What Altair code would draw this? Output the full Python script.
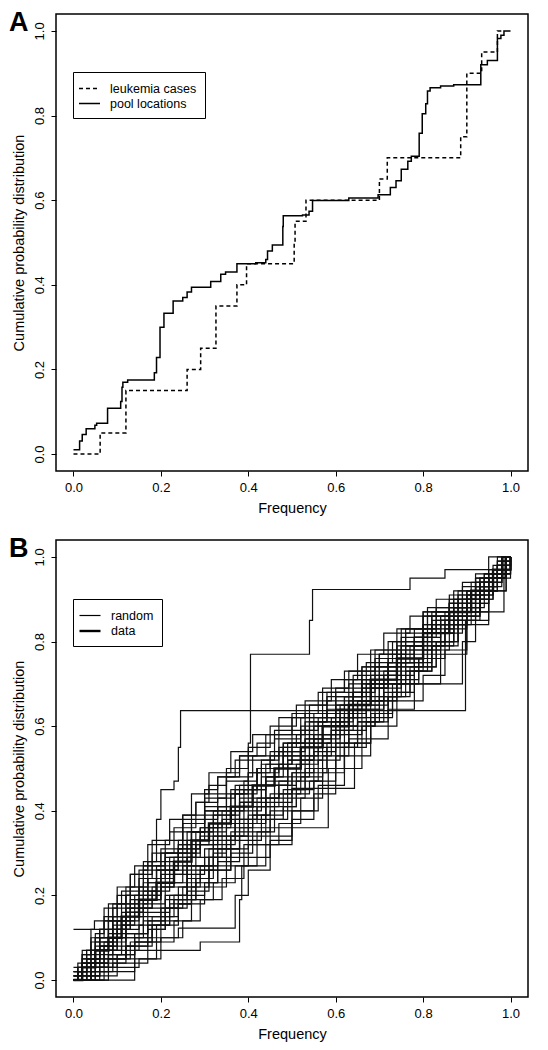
import altair as alt
import pandas as pd

FONT = "Liberation Sans"
ticks = [0.0, 0.2, 0.4, 0.6, 0.8, 1.0]
dom = [-0.04, 1.04]
panel_labels = ["A", "B"]

# ---------------- Panel A ----------------
leuk_x = [0.0, 0.061, 0.12, 0.26, 0.291, 0.326, 0.374, 0.396, 0.505, 0.507, 0.532, 0.70, 0.718, 0.886, 0.90, 0.934, 0.97, 0.985]
leuk_y = [0.0, 0.05, 0.15, 0.20, 0.25, 0.35, 0.40, 0.45, 0.50, 0.55, 0.60, 0.65, 0.70, 0.75, 0.90, 0.95, 1.0, 1.0]

pool_x = [0.0, 0.014, 0.02, 0.029, 0.049, 0.053, 0.078, 0.108, 0.111, 0.113,
          0.124, 0.185, 0.19, 0.198, 0.207, 0.228, 0.25, 0.26, 0.27, 0.314,
          0.337, 0.348, 0.374, 0.417, 0.44, 0.444, 0.455, 0.479, 0.48, 0.524,
          0.539, 0.547, 0.63, 0.697, 0.725, 0.738, 0.75, 0.765, 0.773, 0.791,
          0.798, 0.806, 0.81, 0.816, 0.84, 0.87, 0.932, 0.947, 0.97, 0.978,
          0.985, 1.0]
pool_y = [0.01, 0.031, 0.046, 0.06, 0.068, 0.073, 0.108, 0.124, 0.158, 0.17,
          0.175, 0.192, 0.228, 0.30, 0.333, 0.362, 0.37, 0.383, 0.394, 0.408,
          0.425, 0.43, 0.45, 0.452, 0.46, 0.48, 0.494, 0.538, 0.563, 0.565,
          0.574, 0.599, 0.605, 0.613, 0.63, 0.646, 0.673, 0.692, 0.704, 0.758,
          0.804, 0.828, 0.858, 0.866, 0.87, 0.873, 0.92, 0.93, 0.982, 0.99,
          1.0, 1.0]
legendA = ["leukemia cases", "pool locations"]

# ---------------- Panel B ----------------
r01 = [(0,0.02),(0.02,0.05),(0.05,0.1),(0.08,0.14),(0.12,0.2),(0.16,0.26),(0.2,0.31),(0.25,0.37),(0.3,0.43),(0.35,0.48),(0.41,0.53),(0.47,0.58),(0.53,0.63),(0.6,0.69),(0.67,0.75),(0.73,0.8),(0.8,0.86),(0.86,0.9),(0.92,0.95),(0.97,1.0),(1.0,1.0)]
r02 = [(0,0),(0.04,0.02),(0.09,0.04),(0.14,0.07),(0.2,0.1),(0.25,0.14),(0.29,0.19),(0.34,0.24),(0.39,0.29),(0.45,0.34),(0.5,0.4),(0.56,0.46),(0.62,0.53),(0.68,0.6),(0.74,0.66),(0.8,0.72),(0.85,0.78),(0.9,0.85),(0.95,0.92),(0.99,1.0),(1.0,1.0)]
r03 = [(0,0.01),(0.02,0.04),(0.06,0.08),(0.1,0.12),(0.13,0.17),(0.18,0.21),(0.22,0.26),(0.27,0.32),(0.31,0.36),(0.36,0.41),(0.4,0.46),(0.46,0.5),(0.52,0.55),(0.57,0.61),(0.63,0.66),(0.7,0.72),(0.75,0.78),(0.82,0.83),(0.87,0.88),(0.93,0.94),(0.98,1.0),(1.0,1.0)]
r04 = [(0,0),(0.03,0.05),(0.06,0.1),(0.09,0.15),(0.12,0.2),(0.15,0.26),(0.17,0.32),(0.19,0.38),(0.2,0.45),(0.23,0.47),(0.24,0.55),(0.245,0.637),(0.897,0.85),(0.93,0.9),(0.96,0.95),(0.99,1.0),(1.0,1.0)]
r05 = [(0,0),(0.04,0.04),(0.08,0.09),(0.12,0.15),(0.16,0.2),(0.2,0.26),(0.24,0.32),(0.27,0.38),(0.3,0.45),(0.33,0.48),(0.37,0.52),(0.4,0.56),(0.405,0.77),(0.54,0.85),(0.547,0.923),(0.77,0.95),(0.85,0.97),(0.95,1.0),(1.0,1.0)]
r06 = [(0,0.12),(0.048,0.14),(0.08,0.18),(0.12,0.22),(0.16,0.27),(0.2,0.3),(0.25,0.35),(0.3,0.4),(0.36,0.45),(0.42,0.5),(0.48,0.55),(0.55,0.6),(0.61,0.65),(0.68,0.7),(0.75,0.76),(0.81,0.82),(0.87,0.88),(0.93,0.94),(0.98,1.0),(1.0,1.0)]
r07 = [(0,0),(0.05,0.01),(0.1,0.03),(0.15,0.05),(0.2,0.07),(0.29,0.09),(0.38,0.19),(0.385,0.27),(0.44,0.32),(0.5,0.38),(0.55,0.44),(0.6,0.5),(0.66,0.57),(0.72,0.64),(0.78,0.7),(0.84,0.77),(0.9,0.84),(0.95,0.92),(0.99,1.0),(1.0,1.0)]
r08 = [(0,0),(0.03,0.02),(0.07,0.05),(0.12,0.08),(0.18,0.1),(0.24,0.123),(0.37,0.2),(0.4,0.26),(0.45,0.33),(0.5,0.4),(0.55,0.47),(0.6,0.55),(0.65,0.61),(0.71,0.68),(0.77,0.74),(0.83,0.8),(0.88,0.87),(0.93,0.93),(0.97,0.98),(1.0,1.0)]
r09 = [(0,0),(0.02,0.03),(0.06,0.07),(0.1,0.12),(0.15,0.17),(0.2,0.22),(0.26,0.27),(0.31,0.31),(0.38,0.34),(0.45,0.36),(0.583,0.5),(0.62,0.56),(0.68,0.63),(0.73,0.7),(0.79,0.76),(0.85,0.83),(0.9,0.89),(0.95,0.95),(0.99,1.0),(1.0,1.0)]
r10 = [(0,0),(0.04,0.03),(0.08,0.06),(0.12,0.11),(0.17,0.16),(0.22,0.2),(0.27,0.26),(0.33,0.31),(0.38,0.37),(0.44,0.42),(0.5,0.453),(0.643,0.56),(0.68,0.62),(0.73,0.68),(0.78,0.74),(0.83,0.8),(0.88,0.86),(0.93,0.92),(0.97,0.97),(1.0,1.0)]
r11 = [(0,0),(0.03,0.04),(0.07,0.08),(0.11,0.13),(0.16,0.18),(0.21,0.23),(0.26,0.29),(0.32,0.34),(0.37,0.4),(0.43,0.46),(0.49,0.52),(0.55,0.57),(0.61,0.62),(0.67,0.66),(0.74,0.7),(0.89,0.8),(0.92,0.87),(0.95,0.93),(0.98,0.97),(1.0,1.0)]
r12 = [(0,0.01),(0.02,0.05),(0.05,0.09),(0.09,0.14),(0.13,0.19),(0.17,0.24),(0.22,0.29),(0.27,0.35),(0.32,0.4),(0.37,0.45),(0.42,0.5),(0.48,0.56),(0.54,0.62),(0.6,0.68),(0.66,0.74),(0.72,0.8),(0.8,0.87),(0.985,1.0),(1.0,1.0)]
r13 = [(0,0),(0.01,0.02),(0.03,0.05),(0.07,0.09),(0.1,0.14),(0.14,0.19),(0.17,0.24),(0.21,0.3),(0.26,0.35),(0.3,0.41),(0.35,0.47),(0.4,0.52),(0.46,0.57),(0.52,0.62),(0.58,0.67),(0.64,0.72),(0.7,0.77),(0.76,0.83),(0.83,0.88),(0.89,0.93),(0.95,0.97),(0.99,1.0),(1.0,1.0)]
r14 = [(0,0),(0.05,0.03),(0.1,0.06),(0.14,0.1),(0.18,0.15),(0.23,0.19),(0.28,0.23),(0.33,0.28),(0.38,0.33),(0.43,0.39),(0.48,0.45),(0.53,0.5),(0.58,0.56),(0.63,0.62),(0.68,0.67),(0.74,0.73),(0.8,0.78),(0.86,0.84),(0.91,0.9),(0.96,0.96),(0.99,1.0),(1.0,1.0)]
r15 = [(0,0.02),(0.02,0.06),(0.04,0.1),(0.07,0.15),(0.1,0.2),(0.13,0.25),(0.18,0.3),(0.23,0.36),(0.28,0.42),(0.33,0.48),(0.38,0.53),(0.44,0.58),(0.5,0.63),(0.56,0.68),(0.62,0.73),(0.68,0.78),(0.74,0.83),(0.8,0.87),(0.86,0.91),(0.92,0.95),(0.97,0.99),(1.0,1.0)]
r16 = [(0,0),(0.06,0.04),(0.12,0.08),(0.17,0.12),(0.21,0.17),(0.25,0.22),(0.29,0.27),(0.33,0.33),(0.37,0.38),(0.42,0.43),(0.47,0.47),(0.52,0.52),(0.57,0.58),(0.62,0.63),(0.67,0.69),(0.72,0.74),(0.78,0.79),(0.84,0.85),(0.9,0.91),(0.95,0.96),(1.0,1.0)]
r17 = [(0,0),(0.02,0.02),(0.05,0.06),(0.09,0.11),(0.12,0.16),(0.16,0.2),(0.2,0.25),(0.25,0.3),(0.29,0.34),(0.34,0.38),(0.39,0.42),(0.44,0.47),(0.49,0.52),(0.55,0.58),(0.61,0.64),(0.66,0.69),(0.72,0.75),(0.78,0.81),(0.84,0.86),(0.9,0.92),(0.96,0.97),(0.99,1.0),(1.0,1.0)]
r18 = [(0,0),(0.08,0.05),(0.14,0.09),(0.19,0.13),(0.24,0.18),(0.3,0.22),(0.35,0.27),(0.4,0.32),(0.44,0.38),(0.49,0.43),(0.53,0.49),(0.58,0.55),(0.63,0.6),(0.69,0.66),(0.74,0.71),(0.79,0.76),(0.84,0.82),(0.89,0.88),(0.94,0.94),(0.98,0.99),(1.0,1.0)]
r19 = [(0,0.03),(0.02,0.07),(0.04,0.12),(0.07,0.17),(0.1,0.22),(0.14,0.27),(0.18,0.33),(0.22,0.38),(0.27,0.44),(0.31,0.49),(0.36,0.54),(0.41,0.58),(0.47,0.62),(0.53,0.66),(0.59,0.71),(0.65,0.77),(0.71,0.82),(0.77,0.86),(0.83,0.9),(0.89,0.94),(0.95,0.97),(0.98,1.0),(1.0,1.0)]
r20 = [(0,0),(0.03,0.03),(0.07,0.07),(0.11,0.1),(0.16,0.14),(0.21,0.19),(0.26,0.24),(0.31,0.29),(0.36,0.35),(0.41,0.41),(0.46,0.46),(0.51,0.51),(0.56,0.55),(0.6,0.6),(0.65,0.66),(0.71,0.71),(0.76,0.77),(0.81,0.82),(0.87,0.87),(0.92,0.93),(0.97,0.98),(1.0,1.0)]
r21 = [(0,0),(0.01,0.03),(0.04,0.07),(0.08,0.11),(0.11,0.16),(0.15,0.21),(0.19,0.26),(0.24,0.3),(0.28,0.35),(0.32,0.39),(0.37,0.44),(0.42,0.49),(0.47,0.54),(0.52,0.6),(0.57,0.65),(0.63,0.7),(0.69,0.76),(0.75,0.81),(0.81,0.86),(0.87,0.9),(0.93,0.95),(0.98,1.0),(1.0,1.0)]
r22 = [(0,0),(0.07,0.02),(0.14,0.05),(0.19,0.09),(0.23,0.14),(0.27,0.19),(0.32,0.23),(0.37,0.27),(0.42,0.32),(0.47,0.37),(0.52,0.43),(0.57,0.49),(0.62,0.55),(0.67,0.61),(0.72,0.67),(0.77,0.73),(0.82,0.79),(0.87,0.85),(0.92,0.91),(0.96,0.96),(1.0,1.0)]
r23 = [(0,0),(0.02,0.04),(0.06,0.08),(0.09,0.13),(0.13,0.18),(0.17,0.23),(0.21,0.28),(0.26,0.33),(0.3,0.39),(0.35,0.44),(0.4,0.49),(0.45,0.54),(0.5,0.59),(0.55,0.63),(0.6,0.67),(0.66,0.71),(0.72,0.76),(0.78,0.81),(0.83,0.87),(0.88,0.92),(0.94,0.96),(0.99,1.0),(1.0,1.0)]
r24 = [(0,0),(0.04,0.02),(0.08,0.05),(0.13,0.09),(0.17,0.13),(0.22,0.17),(0.26,0.21),(0.31,0.26),(0.36,0.3),(0.41,0.35),(0.46,0.41),(0.51,0.47),(0.56,0.52),(0.61,0.58),(0.66,0.64),(0.71,0.7),(0.76,0.75),(0.82,0.8),(0.87,0.86),(0.92,0.92),(0.97,0.97),(1.0,1.0)]
r25 = [(0,0.01),(0.03,0.05),(0.06,0.1),(0.1,0.14),(0.15,0.19),(0.19,0.24),(0.23,0.29),(0.28,0.33),(0.33,0.37),(0.38,0.42),(0.43,0.48),(0.48,0.53),(0.53,0.57),(0.59,0.62),(0.64,0.68),(0.69,0.74),(0.75,0.79),(0.8,0.84),(0.86,0.89),(0.91,0.94),(0.96,0.98),(1.0,1.0)]
r26 = [(0,0),(0.14,0.04),(0.17,0.09),(0.2,0.14),(0.24,0.19),(0.28,0.24),(0.32,0.29),(0.36,0.34),(0.4,0.39),(0.45,0.44),(0.5,0.49),(0.55,0.54),(0.6,0.6),(0.65,0.65),(0.7,0.7),(0.75,0.75),(0.8,0.8),(0.85,0.85),(0.9,0.9),(0.95,0.95),(1.0,1.0)]
r27 = [(0,0),(0.02,0.03),(0.05,0.07),(0.09,0.12),(0.13,0.17),(0.18,0.22),(0.23,0.27),(0.28,0.32),(0.33,0.37),(0.38,0.43),(0.44,0.48),(0.49,0.53),(0.54,0.58),(0.6,0.64),(0.66,0.7),(0.72,0.75),(0.78,0.8),(0.84,0.85),(0.89,0.9),(0.94,0.95),(0.98,1.0),(1.0,1.0)]
r28 = [(0,0),(0.03,0.04),(0.06,0.07),(0.1,0.1),(0.15,0.13),(0.2,0.17),(0.24,0.22),(0.28,0.27),(0.32,0.32),(0.37,0.37),(0.42,0.41),(0.47,0.44),(0.52,0.48),(0.57,0.53),(0.62,0.59),(0.67,0.65),(0.72,0.72),(0.78,0.78),(0.84,0.84),(0.9,0.9),(0.95,0.95),(0.99,1.0),(1.0,1.0)]
r29 = [(0,0),(0.01,0.02),(0.03,0.06),(0.05,0.1),(0.08,0.14),(0.11,0.18),(0.15,0.22),(0.19,0.27),(0.24,0.31),(0.29,0.36),(0.34,0.4),(0.39,0.45),(0.44,0.51),(0.5,0.56),(0.56,0.61),(0.62,0.67),(0.68,0.73),(0.74,0.79),(0.8,0.84),(0.86,0.89),(0.92,0.94),(0.97,0.98),(1.0,1.0)]
r30 = [(0,0),(0.05,0.05),(0.09,0.1),(0.12,0.15),(0.16,0.19),(0.2,0.23),(0.25,0.27),(0.3,0.31),(0.35,0.36),(0.4,0.41),(0.44,0.46),(0.49,0.51),(0.54,0.56),(0.59,0.61),(0.64,0.66),(0.69,0.71),(0.74,0.76),(0.8,0.82),(0.86,0.87),(0.91,0.92),(0.96,0.96),(1.0,1.0)]
r31 = [(0,0),(0.02,0.01),(0.04,0.04),(0.08,0.07),(0.12,0.11),(0.16,0.15),(0.21,0.2),(0.26,0.25),(0.3,0.29),(0.34,0.34),(0.39,0.38),(0.44,0.43),(0.49,0.48),(0.54,0.53),(0.59,0.59),(0.64,0.64),(0.7,0.69),(0.75,0.74),(0.8,0.79),(0.85,0.84),(0.9,0.89),(0.95,0.95),(0.99,1.0),(1.0,1.0)]
r32 = [(0,0.02),(0.03,0.07),(0.06,0.12),(0.09,0.17),(0.13,0.22),(0.17,0.28),(0.21,0.33),(0.25,0.39),(0.3,0.44),(0.35,0.5),(0.4,0.55),(0.45,0.6),(0.51,0.65),(0.57,0.69),(0.63,0.73),(0.69,0.78),(0.75,0.83),(0.81,0.88),(0.87,0.92),(0.92,0.96),(0.97,0.99),(1.0,1.0)]
r33 = [(0,0),(0.03,0.01),(0.06,0.03),(0.1,0.06),(0.14,0.09),(0.18,0.13),(0.22,0.18),(0.27,0.22),(0.31,0.27),(0.35,0.31),(0.4,0.36),(0.45,0.4),(0.5,0.45),(0.55,0.5),(0.6,0.56),(0.65,0.61),(0.7,0.67),(0.76,0.73),(0.82,0.79),(0.88,0.86),(0.93,0.92),(0.97,0.97),(1.0,1.0)]
r34 = [(0,0),(0.01,0.01),(0.02,0.04),(0.05,0.08),(0.08,0.12),(0.12,0.16),(0.16,0.21),(0.2,0.26),(0.24,0.31),(0.29,0.36),(0.33,0.41),(0.38,0.46),(0.43,0.51),(0.48,0.56),(0.53,0.61),(0.58,0.66),(0.64,0.71),(0.7,0.77),(0.76,0.82),(0.82,0.87),(0.88,0.91),(0.94,0.96),(0.98,1.0),(1.0,1.0)]
r35 = [(0,0),(0.01,0.02),(0.03,0.04),(0.04,0.07),(0.06,0.09),(0.08,0.12),(0.1,0.15),(0.12,0.17),(0.14,0.2),(0.16,0.23),(0.19,0.26),(0.21,0.29),(0.24,0.32),(0.27,0.35),(0.3,0.38),(0.33,0.41),(0.36,0.44),(0.39,0.47),(0.42,0.5),(0.45,0.53),(0.49,0.56),(0.52,0.59),(0.56,0.62),(0.6,0.65),(0.64,0.68),(0.68,0.72),(0.72,0.75),(0.76,0.79),(0.8,0.83),(0.84,0.86),(0.88,0.9),(0.92,0.93),(0.95,0.96),(0.98,1.0),(1.0,1.0)]
r36 = [(0,0),(0.03,0.01),(0.06,0.03),(0.09,0.05),(0.12,0.07),(0.15,0.1),(0.18,0.12),(0.21,0.15),(0.24,0.18),(0.27,0.2),(0.3,0.23),(0.33,0.26),(0.36,0.29),(0.39,0.32),(0.42,0.35),(0.45,0.38),(0.48,0.41),(0.51,0.44),(0.54,0.47),(0.57,0.5),(0.6,0.53),(0.63,0.57),(0.66,0.6),(0.69,0.63),(0.72,0.67),(0.75,0.7),(0.78,0.73),(0.81,0.77),(0.84,0.8),(0.87,0.84),(0.9,0.87),(0.93,0.91),(0.96,0.95),(0.99,1.0),(1.0,1.0)]
r37 = [(0,0.01),(0.01,0.04),(0.03,0.07),(0.05,0.11),(0.07,0.14),(0.09,0.18),(0.11,0.21),(0.13,0.25),(0.16,0.28),(0.19,0.32),(0.22,0.35),(0.25,0.39),(0.28,0.42),(0.31,0.46),(0.35,0.49),(0.38,0.53),(0.42,0.56),(0.46,0.59),(0.5,0.62),(0.54,0.65),(0.58,0.68),(0.62,0.71),(0.66,0.74),(0.7,0.77),(0.74,0.8),(0.78,0.83),(0.82,0.86),(0.86,0.89),(0.9,0.92),(0.93,0.95),(0.96,0.97),(0.99,1.0),(1.0,1.0)]
r38 = [(0,0),(0.02,0.02),(0.04,0.05),(0.06,0.07),(0.09,0.1),(0.11,0.13),(0.14,0.16),(0.17,0.19),(0.2,0.22),(0.23,0.25),(0.26,0.29),(0.29,0.32),(0.32,0.35),(0.35,0.39),(0.38,0.42),(0.41,0.45),(0.44,0.48),(0.47,0.51),(0.5,0.54),(0.53,0.57),(0.57,0.6),(0.6,0.63),(0.64,0.67),(0.67,0.7),(0.71,0.73),(0.74,0.77),(0.78,0.8),(0.82,0.84),(0.85,0.87),(0.89,0.9),(0.92,0.94),(0.96,0.97),(0.99,1.0),(1.0,1.0)]
r39 = [(0,0),(0.02,0.01),(0.05,0.03),(0.08,0.06),(0.11,0.08),(0.14,0.11),(0.17,0.14),(0.2,0.17),(0.23,0.2),(0.26,0.23),(0.29,0.26),(0.32,0.3),(0.35,0.33),(0.38,0.36),(0.41,0.39),(0.44,0.43),(0.47,0.46),(0.5,0.49),(0.53,0.53),(0.56,0.56),(0.59,0.59),(0.62,0.62),(0.65,0.66),(0.68,0.69),(0.71,0.72),(0.74,0.75),(0.77,0.79),(0.8,0.82),(0.83,0.85),(0.87,0.88),(0.9,0.91),(0.93,0.94),(0.96,0.97),(0.99,1.0),(1.0,1.0)]
r40 = [(0,0),(0.01,0.03),(0.02,0.06),(0.04,0.09),(0.06,0.12),(0.08,0.15),(0.1,0.18),(0.13,0.21),(0.15,0.24),(0.18,0.27),(0.21,0.3),(0.24,0.33),(0.27,0.37),(0.3,0.4),(0.33,0.43),(0.37,0.46),(0.4,0.49),(0.43,0.52),(0.47,0.55),(0.51,0.58),(0.54,0.61),(0.58,0.64),(0.62,0.67),(0.66,0.71),(0.7,0.74),(0.74,0.78),(0.78,0.81),(0.82,0.85),(0.86,0.88),(0.9,0.92),(0.94,0.95),(0.97,0.98),(1.0,1.0)]
data_run = [(0,0),(0.02,0.03),(0.05,0.07),(0.08,0.1),(0.11,0.15),(0.15,0.19),(0.19,0.23),(0.23,0.28),(0.27,0.33),(0.31,0.37),(0.36,0.41),(0.41,0.46),(0.46,0.5),(0.52,0.55),(0.57,0.6),(0.63,0.65),(0.68,0.71),(0.74,0.76),(0.8,0.82),(0.86,0.87),(0.91,0.92),(0.96,0.97),(1.0,1.0)]
random_runs = [r01, r02, r03, r04, r05, r06, r07, r08, r09, r10, r11, r12, r13, r14, r15, r16, r17,
               r18, r19, r20, r21, r22, r23, r24, r25, r26, r27, r28, r29, r30, r31, r32, r33, r34,
               r35, r36, r37, r38, r39, r40]
legendB = ["random", "data"]

# ---------------- tables ----------------
rowsA = []
for i, (xv, yv) in enumerate(zip(leuk_x, leuk_y)):
    rowsA.append({"series": legendA[0], "x": xv, "y": yv, "i": i})
for i, (xv, yv) in enumerate(zip(pool_x, pool_y)):
    rowsA.append({"series": legendA[1], "x": xv, "y": yv, "i": i})
dfA = pd.DataFrame(rowsA)

rowsB = []
for k, run in enumerate(random_runs):
    for i, (xv, yv) in enumerate(run):
        rowsB.append({"run": f"r{k:02d}", "kind": "random", "x": xv, "y": yv, "i": i})
for i, (xv, yv) in enumerate(data_run):
    rowsB.append({"run": "zdata", "kind": "data", "x": xv, "y": yv, "i": i})
dfB = pd.DataFrame(rowsB)

W, H = 472, 457


def xenc():
    return alt.X("x:Q", scale=alt.Scale(domain=dom, nice=False, zero=False),
                 axis=alt.Axis(values=ticks, format=".1f", title="Frequency",
                               labelPadding=5, titlePadding=7, grid=False, domain=False))


def yenc():
    return alt.Y("y:Q", scale=alt.Scale(domain=dom, nice=False, zero=False),
                 axis=alt.Axis(values=ticks, format=".1f", title="Cumulative probability distribution",
                               labelAngle=270, labelAlign="center", labelBaseline="bottom",
                               labelPadding=5, titlePadding=7, grid=False, domain=False))


def legend(x, y):
    return alt.Legend(title=None, orient="none", legendX=x, legendY=y,
                      strokeColor="black", fillColor="white", padding=8,
                      symbolType="M-1.4,0H1.4", symbolSize=225, symbolStrokeColor="black",
                      symbolFillColor="transparent",
                      labelFont=FONT, labelFontSize=12.5, labelColor="black",
                      labelOffset=12, rowPadding=0)


def panel_label(letter):
    return alt.Chart(pd.DataFrame({"t": [letter]})).mark_text(
        font=FONT, fontSize=27, fontWeight="bold", align="left", baseline="top", color="black"
    ).encode(text="t:N", x=alt.value(-47), y=alt.value(-4))


linesA = alt.Chart(dfA).mark_line(interpolate="step-after", color="black", strokeWidth=1.5).encode(
    x=xenc(), y=yenc(),
    strokeDash=alt.StrokeDash("series:N", scale=alt.Scale(domain=legendA, range=[[4, 3], [1, 0]]),
                              legend=legend(17, 58)),
    order="i:Q",
)
chartA = alt.layer(linesA, panel_label(panel_labels[0])).properties(width=W, height=H)

linesB = alt.Chart(dfB).mark_line(interpolate="step-after", color="#111111").encode(
    x=xenc(), y=yenc(),
    detail="run:N",
    strokeWidth=alt.StrokeWidth("kind:N", scale=alt.Scale(domain=legendB, range=[1.2, 2.4]),
                                legend=legend(17, 59)),
    order="i:Q",
)
chartB = alt.layer(linesB, panel_label(panel_labels[1])).properties(width=W, height=H)

chart = alt.vconcat(chartA, chartB, spacing=18, padding=0, background="white").resolve_legend(
    strokeDash="independent", strokeWidth="independent"
).configure_view(stroke="black", strokeWidth=1.5).configure_axis(
    labelFont=FONT, titleFont=FONT, labelFontSize=13, titleFontSize=14.5,
    titleFontWeight="normal", labelColor="black", titleColor="black",
    tickColor="black", tickSize=5, tickWidth=1, domain=False, grid=False
)

chart.save("out.html", embed_options={"renderer": "svg", "actions": False})
